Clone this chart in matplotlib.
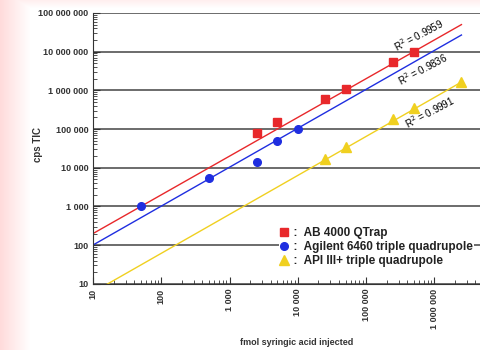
import numpy as np
import matplotlib.pyplot as plt
from matplotlib.ticker import FixedLocator, LogLocator, NullFormatter

# data
ab_x = [2500, 5000, 25000, 50000, 250000, 500000]
ab_y = [80000, 150000, 600000, 1100000, 5500000, 10000000]
ag_x = [50, 500, 2500, 5000, 10000]
ag_y = [1000, 5500, 14000, 50000, 100000]
api_x = [25000, 50000, 250000, 500000, 2500000]
api_y = [17000, 35000, 180000, 350000, 1600000]
# power trendlines y = a * x^b as drawn in the chart
ab_fit = (20.0, 1.0)
ag_fit = (10.0, 1.005)
api_fit = (0.6, 1.006)
fit_range = (10, 2500000)
r2_labels = ["R$^2$ = 0.9959", "R$^2$ = 0.9836", "R$^2$ = 0.9991"]
legend_labels = ["  :  AB 4000 QTrap", "  :  Agilent 6460 triple quadrupole",
                 "  :  API III+ triple quadrupole"]
xticks = [10, 100, 1000, 10000, 100000, 1000000]
yticks = [10, 100, 1000, 10000, 100000, 1000000, 10000000, 100000000]

plt.rcParams['font.family'] = ['Liberation Sans', 'DejaVu Sans']

fig = plt.figure(figsize=(4.8, 3.5), dpi=100)

# pink strip on the left
bg = fig.add_axes([0, 0, 1, 1], zorder=-10)
grad = np.ones((350, 480, 3))
fade = np.clip(np.arange(480) / 30.0, 0, 1)
grad[:, :, 1] = 0.86 + 0.14 * fade
grad[:, :, 2] = 0.86 + 0.14 * fade
top = np.clip(np.arange(350) / 8.0, 0, 1)[:, None]
grad[:, :, 1] = np.minimum(grad[:, :, 1], 0.94 + 0.06 * top)
grad[:, :, 2] = np.minimum(grad[:, :, 2], 0.94 + 0.06 * top)
bg.imshow(grad, aspect='auto', extent=[0, 1, 0, 1])
bg.axis('off')

ax = fig.add_axes([0.194, 0.189, 0.806, 0.774])
ax.set_xscale('log')
ax.set_yscale('log')
xmax = 10 ** 6.67
ax.set_xlim(10, xmax)
ax.set_ylim(10, 1e8)

for yv in yticks:
    ax.axhline(yv, color='#444444', lw=1.1, zorder=1)

xs = np.logspace(np.log10(fit_range[0]), np.log10(fit_range[1]), 100)
series = [(ab_x, ab_y, ab_fit, '#e8282b', 's', 5.5),
          (ag_x, ag_y, ag_fit, '#1f2ee0', 'o', 5.5),
          (api_x, api_y, api_fit, '#f0d020', '^', 6.5)]
handles = []
for (x, y, fit, c, m, ms) in series:
    ax.plot(xs, fit[0] * xs ** fit[1], color=c, lw=1.0, zorder=2)
    h, = ax.plot(x, y, ls='none', marker=m, color=c, ms=ms, zorder=3)
    handles.append(h)

ax.text(5.9e5, 2.7e7, r2_labels[0], rotation=28, fontsize=7, ha='center', va='center')
ax.text(6.8e5, 3.5e6, r2_labels[1], rotation=28, fontsize=7, ha='center', va='center')
ax.text(8.5e5, 2.8e5, r2_labels[2], rotation=28, fontsize=7, ha='center', va='center')

leg = ax.legend(handles, legend_labels, loc='upper left', bbox_to_anchor=(0.465, 0.235),
                frameon=True, facecolor='white', edgecolor='none', framealpha=1,
                fontsize=8.5, handlelength=0.6, handletextpad=0.0,
                borderpad=0.1, labelspacing=0.15)
for t in leg.get_texts():
    t.set_fontweight('bold')
    t.set_color('#222222')

ax.xaxis.set_major_locator(FixedLocator(xticks))
ax.set_xticklabels([f"{v:,}".replace(",", " ") for v in xticks], rotation=90,
                   fontsize=6.5, fontweight='bold', color='#333333')
ax.yaxis.set_major_locator(FixedLocator(yticks))
ax.set_yticklabels([f"{v:,}".replace(",", " ") for v in yticks],
                   fontsize=6.5, fontweight='bold', color='#333333')
ax.xaxis.set_minor_locator(LogLocator(subs=np.arange(2, 10)))
ax.yaxis.set_minor_locator(LogLocator(subs=np.arange(2, 10)))
ax.xaxis.set_minor_formatter(NullFormatter())
ax.yaxis.set_minor_formatter(NullFormatter())
ax.tick_params(which='both', direction='in', length=3, color='#333333')
ax.tick_params(which='major', length=5)
for s in ['top', 'right']:
    ax.spines[s].set_visible(False)
ax.spines['left'].set_color('#333333')
ax.spines['bottom'].set_color('#333333')

ax.set_ylabel("cps TIC", fontsize=7, fontweight='bold', color='#333333')
ax.yaxis.set_label_coords(-0.129, 0.513)
ax.set_xlabel("fmol syringic acid injected", fontsize=6.5, fontweight='bold',
              color='#333333')
ax.xaxis.set_label_coords(0.527, -0.2)

fig.savefig("out.png", dpi=100)
